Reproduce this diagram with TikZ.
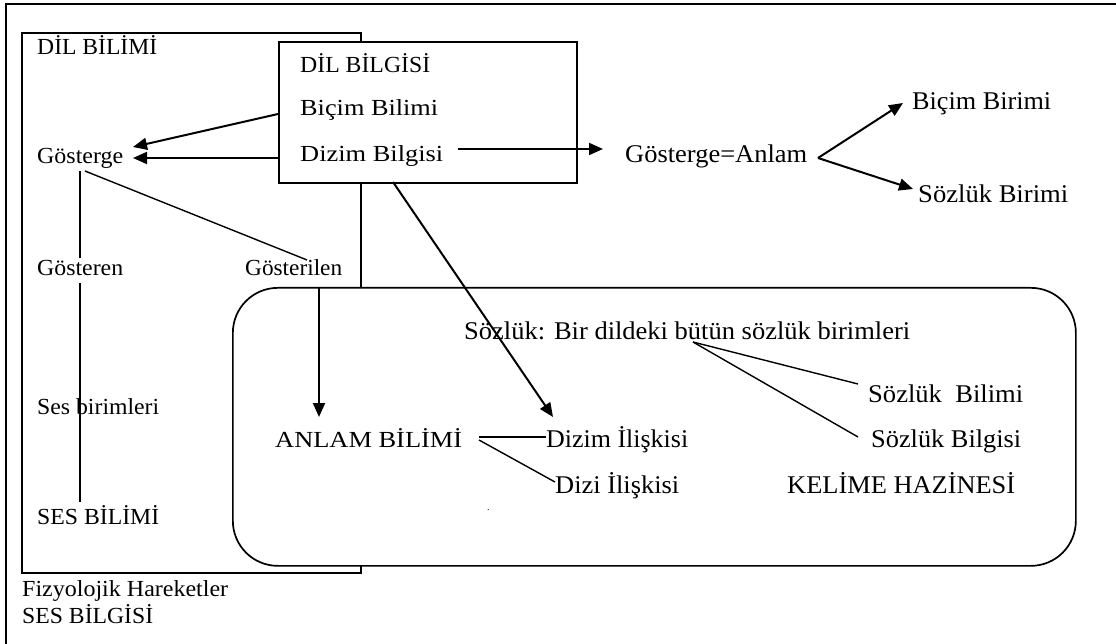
\documentclass[tikz,border=0pt]{standalone}
\usepackage{fontspec}
\setmainfont{Liberation Serif}
\usetikzlibrary{arrows.meta}
\newcommand{\tw}[2]{\resizebox{#1pt}{\height}{#2}}
\tikzset{
  lbl/.style={anchor=base west, inner sep=0pt, font=\fontsize{23}{27}\selectfont},
  lblb/.style={anchor=base west, inner sep=0pt, font=\fontsize{25.5}{30}\selectfont},
  frameline/.style={line width=1.6pt},
  conn/.style={line width=1.4pt},
  arr/.style={line width=2pt, -{Triangle[length=14pt,width=12pt]}},
}
\begin{document}
\begin{tikzpicture}[x=1pt,y=-1pt]
\useasboundingbox (0,0) rectangle (1116,644);
% outer frame (only left and top visible)
\draw[line width=2.2pt] (6,644) -- (6,4) -- (1116,4);
% DIL BILIMI frame
\draw[frameline] (22,33) rectangle (361,573);
% DIL BILGISI box
\node[frameline, draw, fill=white, anchor=north west, minimum width=298pt, minimum height=141pt, inner sep=0pt] (gbox) at (278,41) {};
% rounded box
\node[line width=1.7pt, draw, fill=white, rounded corners=45pt, anchor=north west, minimum width=843pt, minimum height=278pt, inner sep=0pt] (rbox) at (232,287) {};

% texts
\node[lbl] (dilbilimi) at (37,55) {\tw{120}{DİL BİLİMİ}};
\node[lbl] (dilbilgisi) at (300,73) {\tw{130}{DİL BİLGİSİ}};
\node[lbl] (bicimbil) at (300,116) {\tw{138}{Biçim Bilimi}};
\node[lbl] (dizimbil) at (300,162) {\tw{143}{Dizim Bilgisi}};
\node[lbl] (gosterge) at (37,164) {\tw{86}{Gösterge}};
\node[lbl] (gosteren) at (37,276) {\tw{86}{Gösteren}};
\node[lbl] (gosterilen) at (245,276) {\tw{97}{Gösterilen}};
\node[lbl] (sesbir) at (37,414) {\tw{122}{Ses birimleri}};
\node[lbl] (sesbil) at (37,524) {\tw{122}{SES BİLİMİ}};
\node[lbl] (fizyo) at (22,596) {\tw{206}{Fizyolojik Hareketler}};
\node[lbl] (sesbilgisi) at (22,623) {\tw{131}{SES BİLGİSİ}};
\node[lblb] (ganlam) at (625,163) {\tw{182}{Gösterge=Anlam}};
\node[lblb] (bicimbir) at (912,110) {\tw{139}{Biçim Birimi}};
\node[lblb] (sozbir) at (918,203) {\tw{150}{Sözlük Birimi}};
\node[lblb] (sozluk) at (464,340) {\tw{446}{Sözlük: Bir dildeki bütün sözlük birimleri}};
\node[lblb] (sozbilimi) at (868,402) {\tw{155}{Sözlük\ \ Bilimi}};
\node[lblb] (sozbilgisi) at (871,447) {\tw{150}{Sözlük Bilgisi}};
\node[lblb] (kelime) at (787,493) {\tw{228}{KELİME HAZİNESİ}};
\node[lbl] (anlam) at (275,447) {\tw{187}{ANLAM BİLİMİ}};
\node[lblb] (dizimil) at (546,447) {\tw{142}{Dizim İlişkisi}};
\node[lblb] (diziil) at (555,493) {\tw{124}{Dizi İlişkisi}};
\node[anchor=base west, inner sep=0pt, font=\fontsize{10}{12}\selectfont] (dot) at (487,510) {.};

% connector end points
\coordinate (bicimL) at (278,114);
\coordinate (gostTip1) at (133,147);
\coordinate (dizimL) at (278,158);
\coordinate (gostTip2) at (133,158);
\coordinate (gostB) at (80,171);
\coordinate (gostB2) at (85,171);
\coordinate (gosterenT) at (80,258);
\coordinate (gosterilenT) at (307,260);
\coordinate (gosterenB) at (80,283);
\coordinate (sesbilT) at (80,502);
\coordinate (gilB) at (319,287);
\coordinate (anlamT) at (319,417);
\coordinate (gboxB) at (393,182);
\coordinate (dizimilT) at (553,417);
\coordinate (dizimR) at (458,149);
\coordinate (ganlamL) at (603,149);
\coordinate (vtx) at (818,158);
\coordinate (bicimbirL) at (903,103);
\coordinate (sozbirL) at (913,189);
\coordinate (anlamR1) at (479,437);
\coordinate (anlamR2) at (479,440);
\coordinate (dizimilL) at (546,437);
\coordinate (diziilL) at (555,482);
\coordinate (sozV) at (693,342);
\coordinate (sozbilimiL) at (858,384);
\coordinate (sozbilgisiL) at (858,437);

% connectors
\draw[arr] (bicimL) -- (gostTip1);
\draw[arr] (dizimL) -- (gostTip2);
\draw[conn] (gostB) -- (gosterenT);
\draw[conn] (gostB2) -- (gosterilenT);
\draw[conn] (gosterenB) -- (sesbilT);
\draw[arr] (gilB) -- (anlamT);
\draw[arr] (gboxB) -- (dizimilT);
\draw[arr] (dizimR) -- (ganlamL);
\draw[arr] (vtx) -- (bicimbirL);
\draw[arr] (vtx) -- (sozbirL);
\draw[conn] (anlamR1) -- (dizimilL);
\draw[conn] (anlamR2) -- (diziilL);
\draw[conn] (sozV) -- (sozbilimiL);
\draw[conn] (sozV) -- (sozbilgisiL);
\end{tikzpicture}
\end{document}
